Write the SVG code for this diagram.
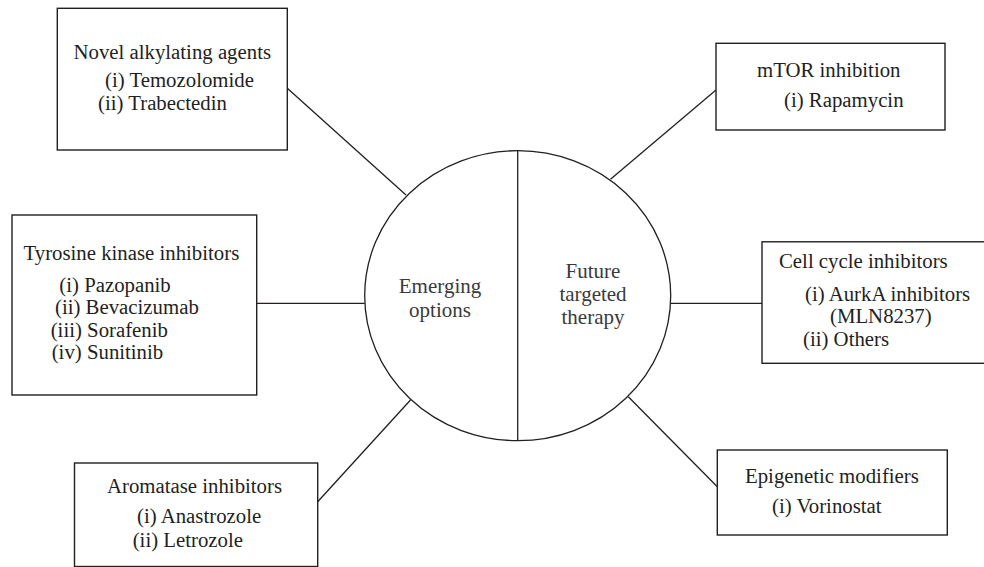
<svg xmlns="http://www.w3.org/2000/svg" width="984" height="567" viewBox="0 0 984 567">
<style>
.box{fill:#fff;stroke:#231f20;stroke-width:1.4}
.ln{stroke:#231f20;stroke-width:1.3;fill:none}
text{font-family:"Liberation Serif","Times New Roman",serif;font-size:20.8px;fill:#231f20}
.c{text-anchor:middle}
.inner{fill:#3a3a3a;font-size:21px}
</style>
<rect width="984" height="567" fill="#fff"/>
<g id="connectors">
<line class="ln" x1="287.3" y1="88.3" x2="406" y2="195"/>
<line class="ln" x1="256.7" y1="303.3" x2="364.7" y2="303.3"/>
<line class="ln" x1="317.7" y1="501.7" x2="410.5" y2="400"/>
<line class="ln" x1="716" y1="90" x2="610.5" y2="179.3"/>
<line class="ln" x1="670.7" y1="303.3" x2="762" y2="303.3"/>
<line class="ln" x1="628.3" y1="396.7" x2="717.3" y2="486.7"/>
</g>
<g id="center">
<ellipse class="ln" cx="517.7" cy="295.7" rx="153" ry="145" fill="#fff"/>
<line class="ln" x1="517.7" y1="150.7" x2="517.7" y2="440.7"/>
<text class="c inner" x="440" y="293">Emerging</text>
<text class="c inner" x="440" y="316.5">options</text>
<text class="c inner" x="593" y="277.7">Future</text>
<text class="c inner" x="593" y="300.9">targeted</text>
<text class="c inner" x="593" y="324">therapy</text>
</g>
<g id="novel-alkylating">
<rect class="box" x="57.3" y="8.3" width="230" height="141.7"/>
<text x="73.5" y="58.5">Novel alkylating agents</text>
<text x="105" y="86.7">(i) Temozolomide</text>
<text x="98" y="110">(ii) Trabectedin</text>
</g>
<g id="tyrosine-kinase">
<rect class="box" x="12" y="215" width="244.7" height="180"/>
<text x="23.5" y="259.5">Tyrosine kinase inhibitors</text>
<text x="59.3" y="291.5">(i) Pazopanib</text>
<text x="55" y="314">(ii) Bevacizumab</text>
<text x="50.7" y="336.7">(iii) Sorafenib</text>
<text x="51.7" y="359.3">(iv) Sunitinib</text>
</g>
<g id="aromatase">
<rect class="box" x="74.5" y="463" width="243.2" height="103.5"/>
<text x="107" y="492.5">Aromatase inhibitors</text>
<text x="137" y="523.3">(i) Anastrozole</text>
<text x="132.7" y="546.5">(ii) Letrozole</text>
</g>
<g id="mtor">
<rect class="box" x="716" y="43.3" width="229" height="86.7"/>
<text x="757" y="76.7">mTOR inhibition</text>
<text x="784" y="106.7">(i) Rapamycin</text>
</g>
<g id="cell-cycle">
<rect class="box" x="762" y="241.8" width="230" height="121.5"/>
<text x="779" y="268">Cell cycle inhibitors</text>
<text x="805" y="301">(i) AurkA inhibitors</text>
<text x="830" y="323">(MLN8237)</text>
<text x="803" y="345.5">(ii) Others</text>
</g>
<g id="epigenetic">
<rect class="box" x="717.3" y="450" width="230" height="85"/>
<text x="745" y="482.5">Epigenetic modifiers</text>
<text x="772" y="512.5">(i) Vorinostat</text>
</g>
</svg>
